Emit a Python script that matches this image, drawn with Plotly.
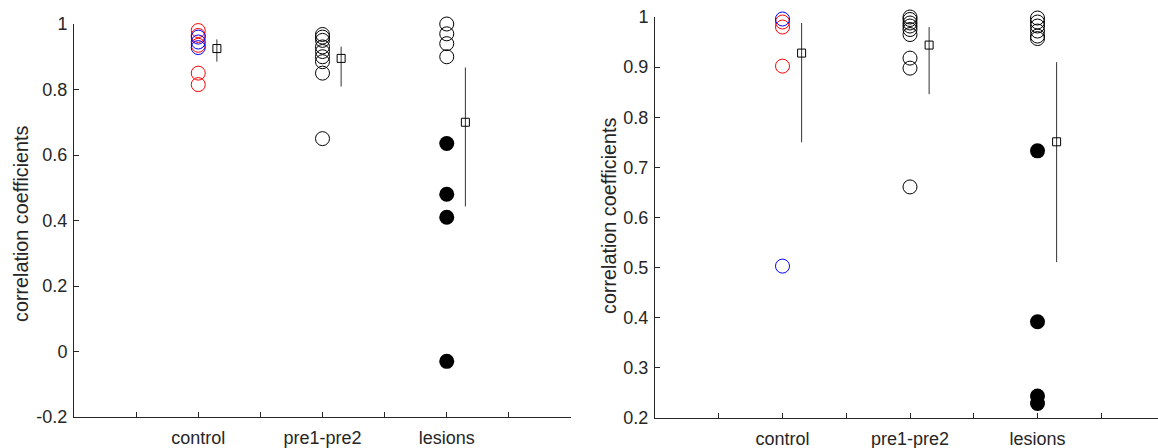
import plotly.graph_objects as go

# ---------------- data ----------------
categories = ["control", "pre1-pre2", "lesions"]

# left panel
L_control_red = [0.98, 0.965, 0.935, 0.85, 0.815]
L_control_blue = [0.96, 0.945, 0.928]
L_pre_open = [0.968, 0.96, 0.95, 0.93, 0.916, 0.90, 0.885, 0.85, 0.65]
L_les_open = [1.0, 0.97, 0.94, 0.90]
L_les_filled = [0.635, 0.48, 0.41, -0.03]
L_mean = [0.925, 0.895, 0.70]
L_hi = [0.953, 0.931, 0.867]
L_lo = [0.885, 0.809, 0.443]

# right panel
R_control_red = [0.99, 0.98, 0.902]
R_control_blue = [0.996, 0.503]
R_pre_open = [1.0, 0.995, 0.988, 0.982, 0.975, 0.965, 0.918, 0.898, 0.661]
R_les_open = [0.998, 0.99, 0.982, 0.972, 0.962, 0.957]
R_les_filled = [0.733, 0.392, 0.244, 0.229]
R_mean = [0.928, 0.944, 0.751]
R_hi = [0.988, 0.98, 0.91]
R_lo = [0.75, 0.846, 0.511]

L_yticks = [-0.2, 0, 0.2, 0.4, 0.6, 0.8, 1]
L_yticktext = ["-0.2", "0", "0.2", "0.4", "0.6", "0.8", "1"]
R_yticks = [0.2, 0.3, 0.4, 0.5, 0.6, 0.7, 0.8, 0.9, 1]
R_yticktext = ["0.2", "0.3", "0.4", "0.5", "0.6", "0.7", "0.8", "0.9", "1"]

# ---------------- figure ----------------
W, H = 1158, 448
TXT = "#262626"
FONT = "Liberation Sans"
pos = {c: i + 1 for i, c in enumerate(categories)}
MEAN_OFF = 0.15

fig = go.Figure()


def open_circles(vals, cat, color, xa, ya):
    fig.add_trace(go.Scatter(
        x=[pos[cat]] * len(vals), y=vals, mode="markers", xaxis=xa, yaxis=ya,
        marker=dict(symbol="circle-open", size=14, color=color, line=dict(width=1, color=color)),
        cliponaxis=False, showlegend=False, hoverinfo="y"))


def filled_circles(vals, cat, xa, ya):
    fig.add_trace(go.Scatter(
        x=[pos[cat]] * len(vals), y=vals, mode="markers", xaxis=xa, yaxis=ya,
        marker=dict(symbol="circle", size=15, color="black", line=dict(width=0)),
        cliponaxis=False, showlegend=False, hoverinfo="y"))


def means(m, hi, lo, xa, ya):
    xs = [pos[c] + MEAN_OFF for c in categories]
    fig.add_trace(go.Scatter(
        x=xs, y=m, mode="markers", xaxis=xa, yaxis=ya,
        marker=dict(symbol="square-open", size=8, color="black", line=dict(width=1, color="black")),
        error_y=dict(type="data", symmetric=False,
                     array=[h - v for h, v in zip(hi, m)],
                     arrayminus=[v - l for l, v in zip(lo, m)],
                     color="#333333", thickness=1, width=0),
        cliponaxis=False, showlegend=False, hoverinfo="y"))


# left panel traces
open_circles(L_control_red, "control", "red", "x", "y")
open_circles(L_control_blue, "control", "blue", "x", "y")
open_circles(L_pre_open, "pre1-pre2", "black", "x", "y")
open_circles(L_les_open, "lesions", "black", "x", "y")
filled_circles(L_les_filled, "lesions", "x", "y")
means(L_mean, L_hi, L_lo, "x", "y")

# right panel traces
open_circles(R_control_red, "control", "red", "x2", "y2")
open_circles(R_control_blue, "control", "blue", "x2", "y2")
open_circles(R_pre_open, "pre1-pre2", "black", "x2", "y2")
open_circles(R_les_open, "lesions", "black", "x2", "y2")
filled_circles(R_les_filled, "lesions", "x2", "y2")
means(R_mean, R_hi, R_lo, "x2", "y2")

xtickvals = [0.5 * k for k in range(9)]
xticktext = [categories[int(v) - 1] if v in (1, 2, 3) else "" for v in xtickvals]

common_x = dict(showline=True, linecolor=TXT, linewidth=1, mirror=False,
                ticks="inside", ticklen=5, tickcolor=TXT, tickwidth=1,
                tickmode="array", tickvals=xtickvals, ticktext=xticktext,
                showgrid=False, zeroline=False, automargin=False, ticklabelstandoff=4,
                tickfont=dict(family=FONT, size=18, color=TXT))
common_y = dict(showline=True, linecolor=TXT, linewidth=1, mirror=False,
                ticks="inside", ticklen=5, tickcolor=TXT, tickwidth=1,
                tickmode="array", showgrid=False, zeroline=False, automargin=False,
                ticklabelstandoff=2,
                tickfont=dict(family=FONT, size=18, color=TXT))

L_x0, L_x1 = 74, 571
L_ytop, L_ybot = 24, 417
R_x0 = 655
R_unit = 127.5
R_ytop, R_ybot = 17, 418

fig.update_layout(
    width=W, height=H, margin=dict(l=0, r=0, t=0, b=0),
    paper_bgcolor="white", plot_bgcolor="white",
    xaxis=dict(domain=[L_x0 / W, L_x1 / W], range=[0, 4], anchor="y", **common_x),
    yaxis=dict(domain=[(H - L_ybot) / H, (H - L_ytop) / H], range=[-0.2, 1], anchor="x",
               tickvals=L_yticks, ticktext=L_yticktext, **common_y),
    xaxis2=dict(domain=[R_x0 / W, 1.0], range=[0, (W - R_x0) / R_unit], anchor="y2", **common_x),
    yaxis2=dict(domain=[(H - R_ybot) / H, (H - R_ytop) / H], range=[0.2, 1], anchor="x2",
                tickvals=R_yticks, ticktext=R_yticktext, **common_y),
    annotations=[
        dict(text="correlation coefficients", textangle=-90, xref="paper", yref="paper",
             x=21 / W, y=(H - 224) / H, xanchor="center", yanchor="middle", showarrow=False,
             font=dict(family=FONT, size=19.8, color=TXT)),
        dict(text="correlation coefficients", textangle=-90, xref="paper", yref="paper",
             x=609 / W, y=(H - 216) / H, xanchor="center", yanchor="middle", showarrow=False,
             font=dict(family=FONT, size=19.8, color=TXT)),
    ],
)

fig.write_html("out.html")
